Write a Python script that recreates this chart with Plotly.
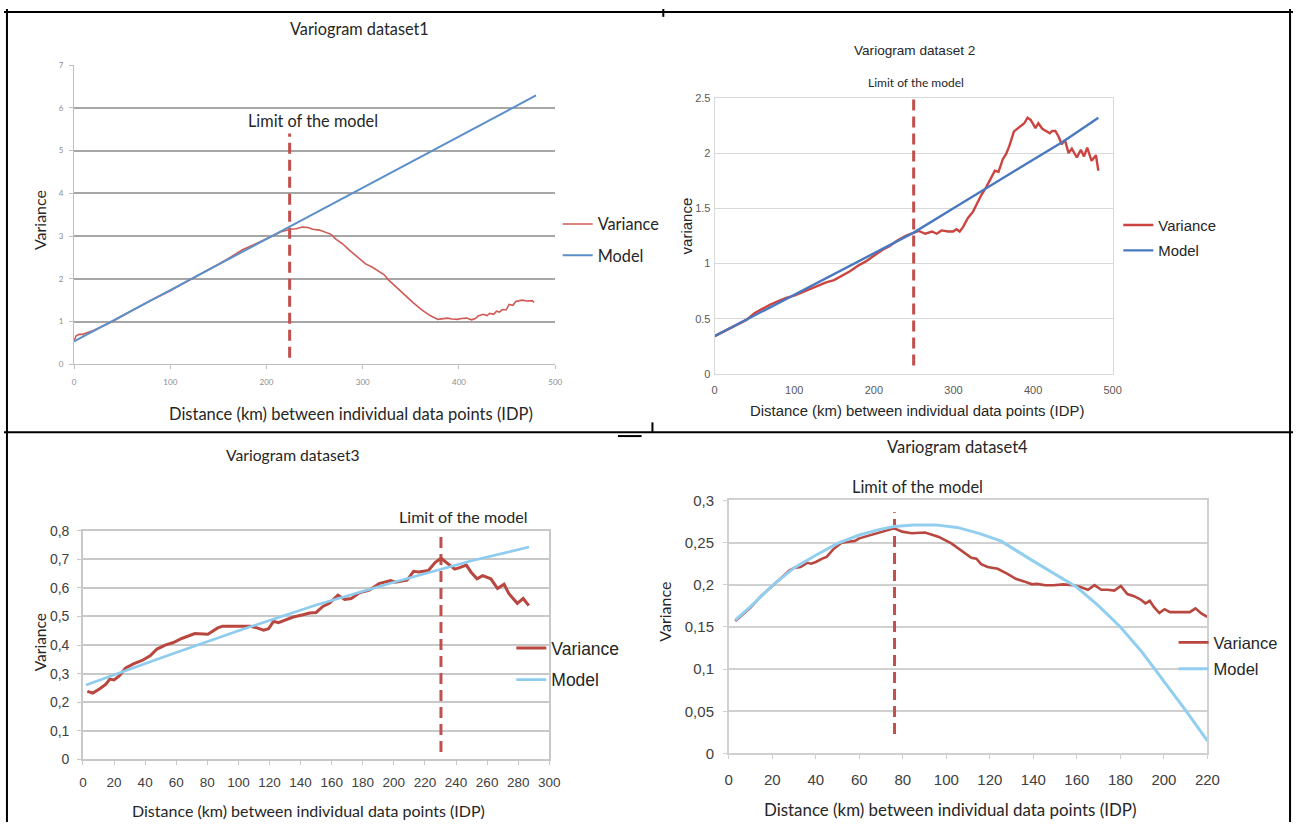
import plotly.graph_objects as go

W, H = 1306, 830

def px(x):
    return x / W

def py(y):
    return 1 - y / H

# ---------------- DATA ----------------
# Panel 1
d1_var_x = [0, 2, 5, 9, 20, 30, 40, 50, 60, 70, 80, 90, 100, 110, 120, 130, 140, 150, 160, 170, 175,
            185, 195, 205, 215, 225, 231, 237, 243, 248, 255, 262, 267, 272, 279, 286, 295, 303, 310,
            317, 322, 327, 335, 344, 352, 361, 370, 378, 383, 388, 393, 398, 403, 408, 413, 417, 420,
            425, 429, 432, 436, 439, 442, 445, 449, 452, 456, 459, 463, 466, 470, 473, 476, 478]
d1_var_y = [0.55, 0.66, 0.70, 0.70, 0.79, 0.89, 1.00, 1.13, 1.26, 1.38, 1.50, 1.61, 1.72, 1.85, 1.97,
            2.09, 2.21, 2.34, 2.47, 2.62, 2.68, 2.78, 2.88, 2.99, 3.10, 3.16, 3.17, 3.21, 3.20, 3.16,
            3.14, 3.08, 3.04, 2.93, 2.82, 2.67, 2.50, 2.35, 2.27, 2.16, 2.10, 1.97, 1.80, 1.60, 1.45,
            1.28, 1.14, 1.05, 1.07, 1.08, 1.06, 1.05, 1.07, 1.08, 1.04, 1.07, 1.13, 1.17, 1.14, 1.19,
            1.17, 1.24, 1.22, 1.28, 1.27, 1.40, 1.38, 1.47, 1.49, 1.50, 1.48, 1.48, 1.49, 1.45]
d1_model_x = [0, 100, 200, 300, 400, 480]
d1_model_y = [0.535, 1.73, 2.93, 4.13, 5.33, 6.29]
d1_limit = 224
d1_limit_span = [0.15, 5.4]
d1_xticks = [0, 100, 200, 300, 400, 500]
d1_yticks = [0, 1, 2, 3, 4, 5, 6, 7]

# Panel 2
d2_var_x = [0, 20, 40, 50, 60, 70, 80, 90, 100, 110, 120, 130, 140, 150, 160, 170, 180, 190, 200, 210,
            220, 230, 240, 250, 256.4, 264.7, 273, 279, 285, 293.4, 299.6, 303.7, 307.8, 312, 318, 324.6,
            328.7, 335, 341, 347.4, 352, 356.6, 362, 366, 370, 376, 383, 389, 393, 397, 403, 406.6,
            411.6, 417.8, 421, 424, 428, 432, 436, 440, 444.6, 448.7, 455, 460, 464, 468, 473.5, 479, 482]
d2_var_y = [0.343, 0.42, 0.49, 0.55, 0.59, 0.63, 0.66, 0.69, 0.71, 0.74, 0.77, 0.80, 0.83, 0.85, 0.89,
            0.93, 0.98, 1.02, 1.07, 1.12, 1.16, 1.21, 1.25, 1.28, 1.295, 1.27, 1.29, 1.27, 1.30, 1.29,
            1.29, 1.31, 1.29, 1.33, 1.41, 1.47, 1.53, 1.62, 1.69, 1.77, 1.84, 1.83, 1.945, 1.99, 2.06,
            2.196, 2.24, 2.27, 2.32, 2.30, 2.225, 2.27, 2.22, 2.19, 2.18, 2.20, 2.20, 2.15, 2.08, 2.12,
            2.00, 2.04, 1.96, 2.03, 1.97, 2.05, 1.93, 1.98, 1.84]
d2_model_x = [0, 50, 100, 150, 200, 250, 300, 345, 400, 437, 482]
d2_model_y = [0.343, 0.53, 0.72, 0.90, 1.09, 1.28, 1.50, 1.70, 1.94, 2.10, 2.32]
d2_limit = 250
d2_limit_span = [0.077, 2.565]
d2_xticks = [0, 100, 200, 300, 400, 500]
d2_yticks = [0, 0.5, 1, 1.5, 2, 2.5]
d2_yticklabels = ["0", "0.5", "1", "1.5", "2", "2.5"]

# Panel 3
d3_var_x = [2.8, 6.3, 10.6, 14.8, 17.3, 20, 23.3, 27.5, 32.8, 38.1, 43.4, 47.6, 52.9, 58.2, 63.5, 68.8,
            72, 80.4, 86.7, 89.8, 97.3, 107.9, 112, 116.2, 119.4, 122.6, 125.7, 131, 135.3, 141.6, 145.8,
            150, 154.3, 158.5, 164, 168.3, 172.6, 177.8, 184.2, 190.5, 194.7, 197.9, 201, 208.5, 212.7,
            215.9, 222.2, 226.5, 230.3, 233.9, 239.2, 242.3, 246.6, 249.7, 253.5, 257.1, 262.4, 266.7,
            270.9, 274, 279.4, 283.2, 286.8]
d3_var_y = [0.238, 0.232, 0.246, 0.263, 0.281, 0.278, 0.292, 0.32, 0.335, 0.346, 0.363, 0.386, 0.40,
            0.409, 0.423, 0.432, 0.44, 0.438, 0.46, 0.466, 0.465, 0.466, 0.46, 0.452, 0.457, 0.483, 0.478,
            0.489, 0.498, 0.506, 0.512, 0.514, 0.535, 0.546, 0.575, 0.56, 0.563, 0.583, 0.592, 0.615,
            0.62, 0.626, 0.62, 0.627, 0.658, 0.656, 0.661, 0.689, 0.704, 0.689, 0.666, 0.671, 0.68,
            0.655, 0.632, 0.643, 0.632, 0.598, 0.613, 0.58, 0.546, 0.563, 0.538]
d3_model_x = [2, 50, 100, 150, 200, 250, 287]
d3_model_y = [0.26, 0.355, 0.45, 0.54, 0.62, 0.695, 0.743]
d3_limit = 230.3
d3_limit_span = [0.026, 0.803]
d3_xticks = [0, 20, 40, 60, 80, 100, 120, 140, 160, 180, 200, 220, 240, 260, 280, 300]
d3_yticks = [0, 0.1, 0.2, 0.3, 0.4, 0.5, 0.6, 0.7, 0.8]
d3_yticklabels = ["0", "0,1", "0,2", "0,3", "0,4", "0,5", "0,6", "0,7", "0,8"]

# Panel 4
d4_var_x = [3, 10, 15, 20, 25, 28, 30, 33, 36, 38, 40, 43, 45, 48, 52, 55, 58, 60, 65, 70, 76, 79.7,
            84.1, 90.2, 96.3, 102.3, 107, 111.5, 113.8, 116, 119, 123.6, 128.1, 131.9, 135.7, 139.4,
            141.7, 145.5, 149.2, 153.8, 158.3, 161.3, 165.1, 168.1, 171.2, 174.2, 177.2, 180.2, 183.2,
            186.3, 189.3, 191.5, 193.5, 195.3, 197.9, 200.3, 202.8, 208.1, 211.9, 214.5, 217.2, 219.9]
d4_var_y = [0.157, 0.173, 0.187, 0.198, 0.21, 0.217, 0.22, 0.221, 0.226, 0.225, 0.227, 0.231, 0.233,
            0.242, 0.250, 0.251, 0.252, 0.255, 0.259, 0.263, 0.267, 0.263, 0.261, 0.262, 0.257, 0.249,
            0.240, 0.232, 0.231, 0.2245, 0.221, 0.219, 0.213, 0.207, 0.204, 0.2005, 0.201, 0.1995,
            0.1995, 0.2005, 0.1995, 0.1975, 0.194, 0.1995, 0.194, 0.194, 0.193, 0.1985, 0.189, 0.1865,
            0.1825, 0.178, 0.181, 0.174, 0.1665, 0.171, 0.1675, 0.1675, 0.1675, 0.172, 0.166, 0.162]
d4_model_x = [3, 10, 20, 30, 40, 50, 60, 70, 76, 85, 95, 105, 115, 125, 140, 150, 160, 170, 180, 190,
              200, 210, 220]
d4_model_y = [0.158, 0.174, 0.199, 0.22, 0.235, 0.249, 0.259, 0.266, 0.269, 0.271, 0.271, 0.268, 0.261,
              0.252, 0.228, 0.212, 0.197, 0.175, 0.150, 0.120, 0.086, 0.051, 0.015]
d4_limit = 76.2
d4_limit_span = [0.023, 0.286]
d4_xticks = [0, 20, 40, 60, 80, 100, 120, 140, 160, 180, 200, 220]
d4_yticks = [0, 0.05, 0.1, 0.15, 0.2, 0.25, 0.3]
d4_yticklabels = ["0", "0,05", "0,1", "0,15", "0,2", "0,25", "0,3"]

titles = ["Variogram dataset1", "Variogram dataset 2", "Variogram dataset3", "Variogram dataset4"]
limit_text = "Limit of the model"
x_title = "Distance (km) between individual data points (IDP)"
y_titles = ["Variance", "variance", "Variance", "Variance"]
series_names = ["Variance", "Model"]

# ---------------- STYLE ----------------
CAL = "Lato, 'Open Sans', sans-serif"
ARI = "'Liberation Sans', Arial, sans-serif"
LIMIT_RED = "#C0504D"

fig = go.Figure()

panels = [
    dict(ax="", vx=d1_var_x, vy=d1_var_y, mx=d1_model_x, my=d1_model_y, lim=d1_limit, span=d1_limit_span,
         vcol="#D05A55", mcol="#5B8FC9", vw=1.6, mw=2.0, leg="legend"),
    dict(ax="2", vx=d2_var_x, vy=d2_var_y, mx=d2_model_x, my=d2_model_y, lim=d2_limit, span=d2_limit_span,
         vcol="#CC4440", mcol="#4A78C0", vw=2.4, mw=2.4, leg="legend2"),
    dict(ax="3", vx=d3_var_x, vy=d3_var_y, mx=d3_model_x, my=d3_model_y, lim=d3_limit, span=d3_limit_span,
         vcol="#B9473F", mcol="#8DCCEE", vw=3.0, mw=2.6, leg="legend3"),
    dict(ax="4", vx=d4_var_x, vy=d4_var_y, mx=d4_model_x, my=d4_model_y, lim=d4_limit, span=d4_limit_span,
         vcol="#B9473F", mcol="#92CEF0", vw=2.6, mw=3.0, leg="legend4"),
]

for i, p in enumerate(panels):
    xa = "x" + p["ax"]
    ya = "y" + p["ax"]
    fig.add_trace(go.Scatter(x=[p["lim"], p["lim"]], y=p["span"], mode="lines", xaxis=xa, yaxis=ya,
                             line=dict(color=LIMIT_RED, width=3, dash="11px,6px"), showlegend=False,
                             hoverinfo="skip"))
    fig.add_trace(go.Scatter(x=p["vx"], y=p["vy"], mode="lines", name=series_names[0], xaxis=xa, yaxis=ya,
                             line=dict(color=p["vcol"], width=p["vw"]), legend=p["leg"],
                             legendgroup="v" + p["ax"]))
    fig.add_trace(go.Scatter(x=p["mx"], y=p["my"], mode="lines", name=series_names[1], xaxis=xa, yaxis=ya,
                             line=dict(color=p["mcol"], width=p["mw"]), legend=p["leg"],
                             legendgroup="m" + p["ax"]))


def dom_x(a, b):
    return [px(a), px(b)]

def dom_y(top, bottom):
    return [py(bottom), py(top)]

# Axes
fig.update_layout(
    xaxis=dict(domain=dom_x(71, 558.5), range=[0, 500], tickvals=d1_xticks, showgrid=False,
               showline=True, linecolor="#BFBFBF", linewidth=1, ticks="outside", ticklen=4,
               tickcolor="#BFBFBF", tickfont=dict(family=CAL, size=8, color="#8C8C8C"),
               zeroline=False, ticklabelstandoff=6),
    yaxis=dict(domain=dom_y(57.3, 362.7), range=[0, 7], tickvals=d1_yticks, showgrid=True,
               gridcolor="#A6A6A6", gridwidth=1.5, showline=True, linecolor="#BFBFBF", linewidth=1,
               ticks="outside", ticklen=4, tickcolor="#BFBFBF",
               tickfont=dict(family=CAL, size=8, color="#8C8C8C"), zeroline=False, ticklabelstandoff=4),
    xaxis2=dict(domain=dom_x(720, 1123.3), range=[0, 500], tickvals=d2_xticks, showgrid=False,
                showline=True, linecolor="#D9D9D9", linewidth=1, mirror=True, ticks="",
                tickfont=dict(family=ARI, size=11, color="#595959"), zeroline=False, ticklabelstandoff=6,
                anchor="y2"),
    yaxis2=dict(domain=dom_y(90.7, 372.7), range=[0, 2.5], tickvals=d2_yticks, ticktext=d2_yticklabels,
                showgrid=True, gridcolor="#D9D9D9", gridwidth=1, showline=True, linecolor="#D9D9D9",
                linewidth=1, mirror=True, ticks="", tickfont=dict(family=ARI, size=11, color="#595959"),
                zeroline=False, ticklabelstandoff=1, anchor="x2"),
    xaxis3=dict(domain=dom_x(80, 552.5), range=[0, 300], tickvals=d3_xticks, showgrid=False,
                showline=True, linecolor="#C8C8C8", linewidth=1.5, mirror=True, ticks="outside", ticklen=4,
                tickcolor="#C8C8C8", tickfont=dict(family=ARI, size=13.5, color="#404040"), zeroline=False,
                ticklabelstandoff=6, anchor="y3"),
    yaxis3=dict(domain=dom_y(532.7, 766), range=[0, 0.8], tickvals=d3_yticks, ticktext=d3_yticklabels,
                showgrid=True, gridcolor="#C8C8C8", gridwidth=1.5, showline=True, linecolor="#C8C8C8",
                linewidth=1.5, mirror=True, ticks="outside", ticklen=4, tickcolor="#C8C8C8",
                tickfont=dict(family=ARI, size=14, color="#404040"), zeroline=False, ticklabelstandoff=5,
                anchor="x3"),
    xaxis4=dict(domain=dom_x(734.3, 1219.3), range=[0, 220], tickvals=d4_xticks, showgrid=False,
                showline=True, linecolor="#D0D0D0", linewidth=1.5, mirror=True, ticks="outside", ticklen=4,
                tickcolor="#D0D0D0", tickfont=dict(family=ARI, size=15, color="#404040"), zeroline=False,
                ticklabelstandoff=8, anchor="y4"),
    yaxis4=dict(domain=dom_y(501.7, 760), range=[0, 0.3], tickvals=d4_yticks, ticktext=d4_yticklabels,
                showgrid=True, gridcolor="#D0D0D0", gridwidth=1.5, showline=True, linecolor="#D0D0D0",
                linewidth=1.5, mirror=True, ticks="outside", ticklen=4, tickcolor="#D0D0D0",
                tickfont=dict(family=ARI, size=15, color="#404040"), zeroline=False, ticklabelstandoff=6,
                anchor="x4"),
)

# Legends
def legend_cfg(x, y, family, size, gap):
    return dict(x=px(x), y=py(y), xanchor="left", yanchor="top", xref="paper", yref="paper",
                font=dict(family=family, size=size, color="#262626"), bgcolor="rgba(0,0,0,0)",
                borderwidth=0, itemwidth=30, traceorder="grouped", tracegroupgap=gap,
                itemclick=False, itemdoubleclick=False)

fig.update_layout(
    legend=legend_cfg(561, 202, CAL, 16.3, 7),
    legend2=legend_cfg(1129, 204, ARI, 14.9, 3),
    legend3=legend_cfg(514, 634, ARI, 17.5, 6),
    legend4=legend_cfg(1185, 629, ARI, 16.5, 2),
)

# Text annotations
ann = []
def add_text(text, cx, cy, family, size, color="#262626", angle=0):
    ann.append(dict(text=text, x=px(cx), y=py(cy), xref="paper", yref="paper", xanchor="center",
                    yanchor="middle", showarrow=False, textangle=angle,
                    font=dict(family=family, size=size, color=color)))

# titles
add_text(titles[0], 360, 20, CAL, 16.3)
add_text(titles[1], 923, 42, ARI, 13.6)
add_text(titles[2], 293, 455, CAL, 15.7)
add_text(titles[3], 966, 447, CAL, 16.5)
# limit labels
add_text(limit_text, 313, 114, CAL, 16.3)
add_text(limit_text, 924, 75, CAL, 12)
add_text(limit_text, 466, 518, CAL, 16.1)
add_text(limit_text, 926, 487, CAL, 16.4)
# x titles
add_text(x_title, 352, 413, CAL, 16.5)
add_text(x_title, 925, 410, ARI, 14.9)
add_text(x_title, 309, 818, CAL, 16)
add_text(x_title, 958, 817, CAL, 16.9)
# y titles
add_text(y_titles[0], 36, 216, CAL, 16, angle=-90)
add_text(y_titles[1], 691, 222, ARI, 15, angle=-90)
add_text(y_titles[2], 36, 647, CAL, 15.5, angle=-90)
add_text(y_titles[3], 669, 615, CAL, 16, angle=-90)

# Table borders (document frame around the four charts; mostly hidden by the chart images)
frame = []
def seg(x0, y0, x1, y1, w=2):
    frame.append(dict(type="line", xref="paper", yref="paper", x0=px(x0), y0=py(y0), x1=px(x1), y1=py(y1),
                      line=dict(color="#000000", width=w)))
seg(0, 3, 1306, 3)
seg(3, 0, 3, 830)
seg(1303, 0, 1303, 830)
seg(0, 432, 1306, 432)
seg(668, 0, 668, 8)
seg(657, 422, 657, 432)
seg(622, 436, 646, 436)

fig.update_layout(
    width=W, height=H, margin=dict(l=0, r=0, t=0, b=0),
    paper_bgcolor="white", plot_bgcolor="white",
    annotations=ann, shapes=frame, hovermode=False,
)

fig.write_html("out.html", post_script="document.body.style.margin='0px';")
